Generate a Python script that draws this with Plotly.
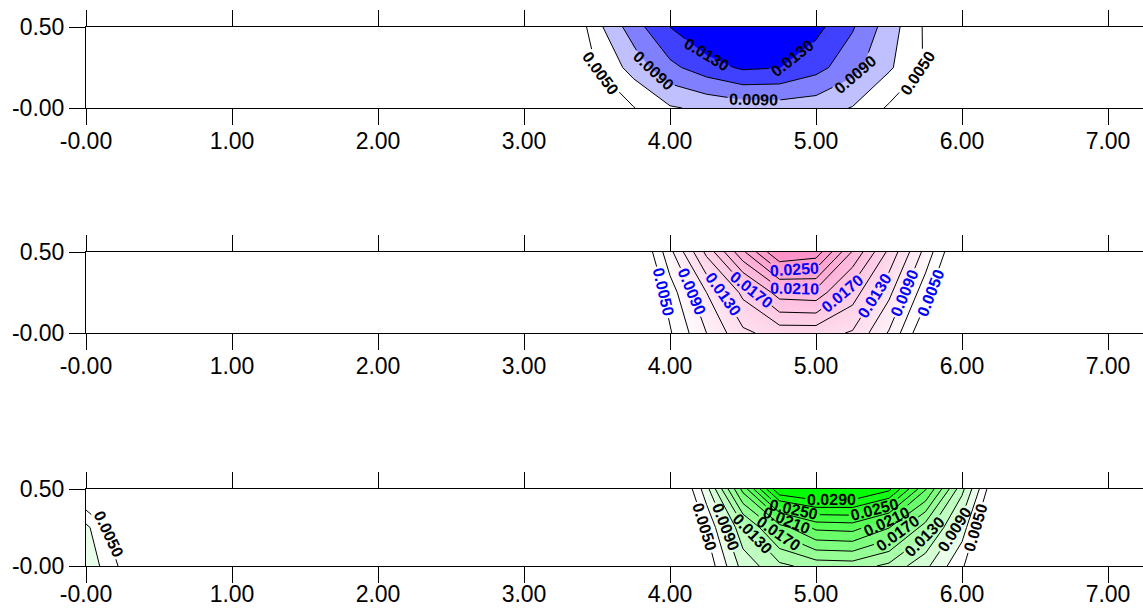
import math
import plotly.graph_objects as go

# ---------------- data ----------------
X_VALUES = [round(i * 0.25, 2) for i in range(30)]          # 0.00 ... 7.25
Y_VALUES = [0.0, 0.25, 0.5]

X_TICKS = [0, 1, 2, 3, 4, 5, 6, 7]
X_TICK_TEXT = ["-0.00", "1.00", "2.00", "3.00", "4.00", "5.00", "6.00", "7.00"]
Y_TICKS = [0.0, 0.5]
Y_TICK_TEXT = ["-0.00", "0.50"]

# panel 1 (blue)
P1_ROW_Y000 = [0] * 13 + [0.0005, 0.0030, 0.0049, 0.0068, 0.0074, 0.0079, 0.0080, 0.0078, 0.0069, 0.0047, 0.0025, 0.0005] + [0] * 5
P1_ROW_Y025 = [0] * 13 + [0.0020, 0.0051, 0.0078, 0.0105, 0.0121, 0.0133, 0.01305, 0.0117, 0.0097, 0.0073, 0.0048, 0.0015] + [0] * 5
P1_ROW_Y050 = [0] * 13 + [0.0015, 0.0064, 0.0101, 0.01302, 0.0150, 0.0160, 0.0155, 0.0136, 0.0112, 0.0080, 0.0047, 0.0010] + [0] * 5

# panel 2 (pink)
P2_ROW_Y000 = [0] * 15 + [0.0000, 0.0048, 0.0090, 0.0126, 0.0138, 0.0138, 0.0128, 0.0088, 0.0030, 0.0000] + [0] * 5
P2_ROW_Y025 = [0] * 15 + [0.0000, 0.0060, 0.0110, 0.0155, 0.0200, 0.0203, 0.0160, 0.0115, 0.0058, 0.0000] + [0] * 5
P2_ROW_Y050 = [0] * 15 + [0.0013, 0.0084, 0.0155, 0.0226, 0.0292, 0.0282, 0.0208, 0.0145, 0.0083, 0.0020] + [0] * 5

# panel 3 (green)
P3_ROW_Y000 = [0.0085, 0.0045] + [0] * 14 + [0.0000, 0.0035, 0.0098, 0.0125, 0.0138, 0.0140, 0.0125, 0.0095, 0.0053, 0.0000] + [0] * 4
P3_ROW_Y025 = [0.0075, 0.0030] + [0] * 14 + [0.0000, 0.0052, 0.0125, 0.0180, 0.0215, 0.0218, 0.0191, 0.0140, 0.0080, 0.0000] + [0] * 4
P3_ROW_Y050 = [0.0020, 0.0010] + [0] * 14 + [0.0000, 0.0082, 0.0197, 0.0310, 0.0320, 0.0318, 0.0295, 0.0213, 0.0116, 0.0019] + [0] * 4

LEVEL_START = 0.005
LEVEL_STEP = 0.002

FONT = "Liberation Sans, Arial, sans-serif"
FIG_W, FIG_H = 1143, 608
MARGIN_L = 86
X_RANGE = [0, (FIG_W - MARGIN_L) / 146.0]
PANEL_PX = [(27, 108), (252, 333), (489, 566)]   # top / bottom pixel rows of each panel
TICK_STANDOFF = [-4, -4, -9]
LABEL_SIZE = 16


# ---------------- contour geometry (marching squares on the data grid) ----------------
def contour_paths(xs, ys, z, level):
    pts = {}
    segs = []
    for j in range(len(ys) - 1):
        for i in range(len(xs) - 1):
            corners = [(i, j), (i + 1, j), (i + 1, j + 1), (i, j + 1)]
            vals = [z[c[1]][c[0]] for c in corners]
            edges = []
            for e in range(4):
                a, b = corners[e], corners[(e + 1) % 4]
                va, vb = vals[e], vals[(e + 1) % 4]
                if (va >= level) != (vb >= level):
                    key = tuple(sorted([a, b]))
                    if key not in pts:
                        t = (level - va) / (vb - va)
                        pts[key] = (xs[a[0]] + t * (xs[b[0]] - xs[a[0]]),
                                    ys[a[1]] + t * (ys[b[1]] - ys[a[1]]))
                    edges.append(key)
            if len(edges) == 2:
                segs.append((edges[0], edges[1]))
            elif len(edges) == 4:
                center = sum(vals) / 4.0
                if (center >= level) == (vals[0] >= level):
                    segs.append((edges[0], edges[1]))
                    segs.append((edges[2], edges[3]))
                else:
                    segs.append((edges[3], edges[0]))
                    segs.append((edges[1], edges[2]))
    adj = {}
    for a, b in segs:
        adj.setdefault(a, []).append(b)
        adj.setdefault(b, []).append(a)
    used = set()

    def walk(start):
        path = [start]
        cur = start
        while True:
            nxt = None
            for n in adj[cur]:
                s = frozenset((cur, n))
                if s not in used:
                    used.add(s)
                    nxt = n
                    break
            if nxt is None:
                break
            path.append(nxt)
            cur = nxt
        return path

    paths = []
    for k in adj:
        if len(adj[k]) == 1 and frozenset((k, adj[k][0])) not in used:
            paths.append(walk(k))
    for k in adj:
        if any(frozenset((k, n)) not in used for n in adj[k]):
            paths.append(walk(k))
    return [[pts[k] for k in p] for p in paths]


def cumlen(path, sx, sy):
    c = [0.0]
    for (x0, y0), (x1, y1) in zip(path, path[1:]):
        c.append(c[-1] + math.hypot((x1 - x0) * sx, (y1 - y0) * sy))
    return c


def point_at(path, cum, s):
    s = max(0.0, min(cum[-1], s))
    for i in range(1, len(cum)):
        if cum[i] >= s:
            seg = cum[i] - cum[i - 1]
            t = 0.0 if seg == 0 else (s - cum[i - 1]) / seg
            (x0, y0), (x1, y1) = path[i - 1], path[i]
            return (x0 + t * (x1 - x0), y0 + t * (y1 - y0))
    return path[-1]


def sub_path(path, cum, s0, s1):
    out = [point_at(path, cum, s0)]
    for i in range(len(path)):
        if s0 < cum[i] < s1:
            out.append(path[i])
    out.append(point_at(path, cum, s1))
    return out


fig = go.Figure()
annotations = []

panels = [
    dict(z=[P1_ROW_Y000, P1_ROW_Y025, P1_ROW_Y050], top=0.013, coloring="fill",
         colorscale=[[0, "#ffffff"], [0.3, "#ffffff"], [0.3, "#c0c0ff"], [0.5, "#c0c0ff"],
                     [0.5, "#8080ff"], [0.7, "#8080ff"], [0.7, "#4040ff"], [0.9, "#4040ff"],
                     [0.9, "#0000ff"], [1, "#0000ff"]],
         labcolor="#000000", zmin=None, zmax=None),
    dict(z=[P2_ROW_Y000, P2_ROW_Y025, P2_ROW_Y050], top=0.027, coloring="heatmap",
         colorscale=[[0, "#ffffff"], [1, "#ff8fc7"]],
         labcolor="#0000ff", zmin=0.006, zmax=0.029),
    dict(z=[P3_ROW_Y000, P3_ROW_Y025, P3_ROW_Y050], top=0.029, coloring="fill",
         colorscale=[[0, "#ffffff"], [1 / 13, "#ffffff"], [1, "#00ff00"]],
         labcolor="#000000", zmin=None, zmax=None),
]

SX = (FIG_W - MARGIN_L) / (X_RANGE[1] - X_RANGE[0])
label_w = (5 * 0.556 + 0.278) * LABEL_SIZE
gap_half = label_w / 2 + 2

for k, p in enumerate(panels):
    xa = "x" if k == 0 else f"x{k+1}"
    ya = "y" if k == 0 else f"y{k+1}"
    SY = (PANEL_PX[k][1] - PANEL_PX[k][0]) / 0.5

    fill_kw = dict(
        x=X_VALUES, y=Y_VALUES, z=p["z"], xaxis=xa, yaxis=ya,
        autocontour=False,
        contours=dict(start=LEVEL_START, end=p["top"], size=LEVEL_STEP,
                      coloring=p["coloring"], showlines=False),
        colorscale=p["colorscale"], showscale=False,
        line=dict(width=0, smoothing=0), hoverinfo="skip",
    )
    if p["zmin"] is not None:
        fill_kw.update(zmin=p["zmin"], zmax=p["zmax"], zauto=False)
    fig.add_trace(go.Contour(**fill_kw))

    lx, ly = [], []
    nlev = int(round((p["top"] - LEVEL_START) / LEVEL_STEP)) + 1
    for li in range(nlev):
        level = LEVEL_START + li * LEVEL_STEP
        labelled = (li % 2 == 0)
        for path in contour_paths(X_VALUES, Y_VALUES, p["z"], level):
            cum = cumlen(path, SX, SY)
            L = cum[-1]
            gaps = []
            if labelled and L > 40:
                n = max(1, int(round(L / 105.0)))
                for m in range(n):
                    s = (m + 0.5) / n * L
                    cx, cy = point_at(path, cum, s)
                    (ax_, ay_) = point_at(path, cum, s - 14)
                    (bx_, by_) = point_at(path, cum, s + 14)
                    ang = math.degrees(math.atan2(-(by_ - ay_) * SY, (bx_ - ax_) * SX))
                    if ang > 90:
                        ang -= 180
                    elif ang <= -90:
                        ang += 180
                    annotations.append(dict(
                        x=cx, y=cy, xref=xa, yref=ya, text=f"{level:.4f}",
                        showarrow=False, textangle=ang, xanchor="center", yanchor="middle",
                        font=dict(family=FONT, size=LABEL_SIZE, color=p["labcolor"], weight="bold"),
                        borderpad=0,
                    ))
                    gaps.append((s - gap_half, s + gap_half))
            keep = []
            cur = 0.0
            for g0, g1 in gaps:
                if g0 > cur:
                    keep.append((cur, g0))
                cur = max(cur, g1)
            if cur < L:
                keep.append((cur, L))
            for s0, s1 in keep:
                piece = sub_path(path, cum, s0, s1)
                lx.extend([q[0] for q in piece] + [None])
                ly.extend([q[1] for q in piece] + [None])
    fig.add_trace(go.Scatter(
        x=lx, y=ly, xaxis=xa, yaxis=ya, mode="lines",
        line=dict(color="#000000", width=1), hoverinfo="skip", showlegend=False,
        connectgaps=False, cliponaxis=True,
    ))

axis_common_x = dict(
    range=X_RANGE, showline=True, linecolor="#000000", linewidth=1,
    mirror="allticks", ticks="outside", ticklen=16, tickcolor="#000000", tickwidth=1,
    tickvals=X_TICKS, ticktext=X_TICK_TEXT, showgrid=False, zeroline=False,
    tickfont=dict(family=FONT, size=23, color="#000000"), automargin=False,
)
axis_common_y = dict(
    range=[0, 0.5], showline=True, linecolor="#000000", linewidth=1, mirror=False,
    ticks="outside", ticklen=16, tickcolor="#000000", tickwidth=1,
    tickvals=Y_TICKS, ticktext=Y_TICK_TEXT, showgrid=False, zeroline=False,
    tickfont=dict(family=FONT, size=23, color="#000000"), automargin=False,
)

layout = dict(
    width=FIG_W, height=FIG_H,
    margin=dict(l=MARGIN_L, r=0, t=0, b=0, pad=0),
    paper_bgcolor="#ffffff", plot_bgcolor="#ffffff",
    showlegend=False, annotations=annotations,
)
for k in range(3):
    xk = "xaxis" if k == 0 else f"xaxis{k+1}"
    yk = "yaxis" if k == 0 else f"yaxis{k+1}"
    top_px, bot_px = PANEL_PX[k]
    layout[xk] = dict(axis_common_x, anchor="y" if k == 0 else f"y{k+1}",
                      ticklabelstandoff=TICK_STANDOFF[k])
    layout[yk] = dict(axis_common_y, domain=[1 - bot_px / FIG_H, 1 - top_px / FIG_H],
                      anchor="x" if k == 0 else f"x{k+1}")

fig.update_layout(**layout)
fig.write_html("out.html", config={"displayModeBar": False},
               post_script="document.body.style.margin='0px';document.body.style.overflow='hidden';")
